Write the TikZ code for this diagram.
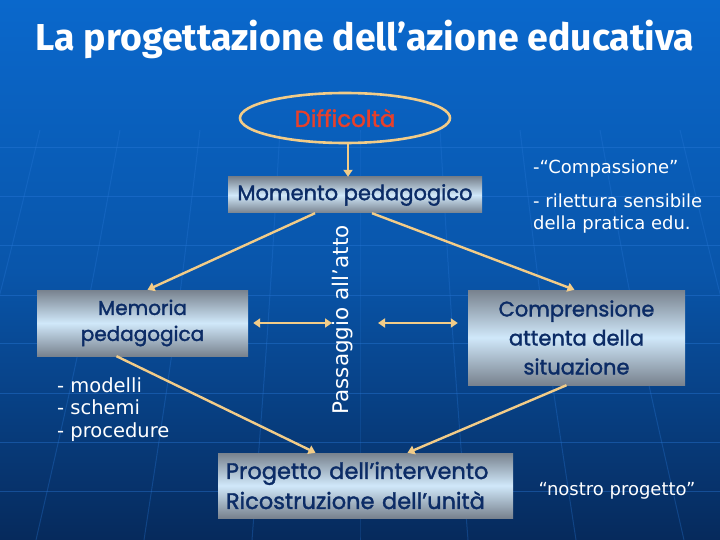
\documentclass[tikz,border=0pt]{standalone}
\usepackage{fontspec}
\usetikzlibrary{arrows.meta,shapes.geometric}
\newfontfamily\titlefont{Fira Sans}
\newfontfamily\boxfont{Poppins}[FakeBold=1.6]
\newfontfamily\wfont{DejaVu Sans}
\definecolor{bgtop}{HTML}{0A68CC}
\definecolor{bgbot}{HTML}{062A5C}
\definecolor{tan}{HTML}{F2CC88}
\definecolor{navy}{HTML}{0C2C66}
\definecolor{redt}{HTML}{E8402A}
\definecolor{gridc}{HTML}{2A7ADA}
\definecolor{boxgrey}{HTML}{78828E}
\definecolor{boxmid}{HTML}{D0E8FA}
\tikzset{
  pbox/.style={rectangle, draw=none, top color=boxgrey, bottom color=boxgrey, middle color=boxmid, shading=axis, text=navy, font=\boxfont\fontsize{21}{27}\selectfont, align=center, inner sep=0pt},
  conn/.style={draw=tan, line width=2.4pt, -{Triangle[length=7pt,width=9pt]}},
  dconn/.style={draw=tan, line width=2.4pt, {Triangle[length=7pt,width=9pt]}-{Triangle[length=7pt,width=9pt]}},
  wtext/.style={text=white, font=\wfont\fontsize{18}{22}\selectfont, inner sep=0pt},
}
\begin{document}
\begin{tikzpicture}[x=1pt,y=-1pt]
\useasboundingbox (0,0) rectangle (720,540);
\shade[top color=bgtop, bottom color=bgbot, middle color=bgtop!70!bgbot] (0,0) rectangle (720,540);
% faint background grid
\foreach \yy in {148,197,245,295,343,393,442,491}
  \draw[gridc, opacity=0.4, line width=1pt] (0,\yy) -- (720,\yy);
\foreach \xx in {40,120,200,280,360,440,520,600,680}
  \draw[gridc, opacity=0.3, line width=1pt] (\xx,130) .. controls ({\xx+0.15*(\xx-360)},330) .. ({\xx+0.35*(\xx-360)},540);
% title
\node[text=white, font=\titlefont\bfseries\fontsize{37.5}{42}\selectfont, inner sep=0pt] (title) at (365,39) {La progettazione dell’azione educativa};
% ellipse
\node[ellipse, draw=tan, line width=2.6pt, minimum width=210pt, minimum height=50pt, text=redt, font=\boxfont\fontsize{23}{26}\selectfont, inner sep=0pt] (diff) at (345,118) {Difficoltà};
% boxes
\node[pbox, minimum width=254pt, minimum height=36pt] (mom) at (355,195) {Momento pedagogico};
\node[pbox, minimum width=211pt, minimum height=66pt, font=\boxfont\fontsize{20}{26}\selectfont] (mem) at (142.5,323) {Memoria\\pedagogica};
\node[pbox, minimum width=217pt, minimum height=95pt, font=\boxfont\fontsize{21}{29}\selectfont] (comp) at (576.5,337.5) {Comprensione\\attenta della\\situazione};
\node[pbox, minimum width=295pt, minimum height=65pt, text width=279pt, align=left, font=\boxfont\fontsize{22.5}{30}\selectfont] (prog) at (365.5,485.5) {Progetto dell’intervento\\Ricostruzione dell’unità};
% rotated
\node[wtext, rotate=90, font=\wfont\fontsize{21.5}{24}\selectfont] (pass) at (343,320) {Passaggio all’atto};
% white texts
\node[wtext, align=left, anchor=north west, font=\wfont\fontsize{19.5}{22.5}\selectfont] (list) at (57,377) {- modelli\\- schemi\\- procedure};
\node[wtext, anchor=west] (compa) at (533,169) {-“Compassione”};
\node[wtext, anchor=north west, align=left] (rilet) at (533,194) {- rilettura sensibile\\della pratica edu.};
\node[wtext] (nostro) at (617,491) {“nostro progetto”};
% connectors
\draw[conn] ([xshift=3pt]diff.south) -- ([xshift=3pt]diff.south |- mom.north);
\draw[conn] ([xshift=-40pt]mom.south) -- ([xshift=5pt]mem.north);
\draw[conn] ([xshift=17pt]mom.south) -- ([xshift=-2pt]comp.north);
\draw[conn] ([xshift=-26pt]mem.south) -- ([xshift=-50pt]prog.north);
\draw[conn] ([xshift=-10pt]comp.south) -- ([xshift=42pt]prog.north);
\draw[dconn] ([xshift=5pt]mem.east) -- ([xshift=-11pt]pass.center |- mem.east);
\draw[dconn] ([xshift=35pt]pass.center |- mem.east) -- ([xshift=-10pt]comp.west |- mem.east);
\end{tikzpicture}
\end{document}
